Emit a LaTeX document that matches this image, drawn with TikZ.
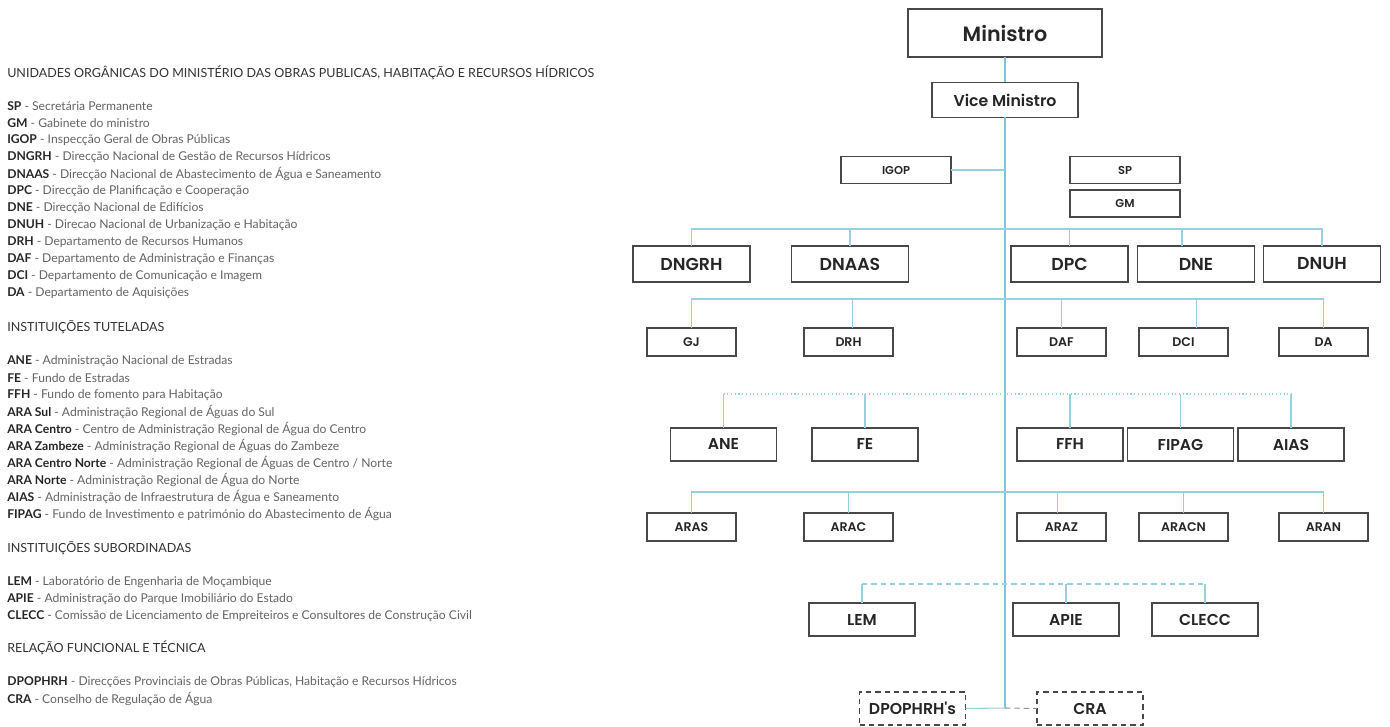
\documentclass[tikz,border=0pt]{standalone}
\usepackage{fontspec}
\setmainfont{Lato}
\newfontfamily\chartfont{Poppins}[BoldFont={* SemiBold}]
\definecolor{linkblue}{RGB}{150,210,222}
\definecolor{spineblue}{RGB}{120,198,214}
\definecolor{boxgray}{RGB}{72,72,72}
\definecolor{descgray}{RGB}{100,100,100}

\begin{document}
\begin{tikzpicture}
  [x=0.75pt,y=-0.75pt,
   box/.style={draw=boxgray,line width=1.1pt,inner sep=0pt,outer sep=0pt,fill=white,text=black!85},
   minister/.style={box,minimum width=145.5pt,minimum height=36pt,font=\chartfont\bfseries\fontsize{15.5}{15.5}\selectfont},
   vice/.style={box,minimum width=109.5pt,minimum height=26.25pt,font=\chartfont\bfseries\fontsize{11.8}{11.8}\selectfont},
   staff/.style={box,minimum width=82.5pt,minimum height=20.25pt,font=\chartfont\bfseries\fontsize{8.6}{8.6}\selectfont},
   direc/.style={box,minimum width=87.75pt,minimum height=27pt,font=\chartfont\bfseries\fontsize{13}{13}\selectfont},
   dept/.style={box,minimum width=66.75pt,minimum height=21pt,font=\chartfont\bfseries\fontsize{9.4}{9.4}\selectfont},
   inst/.style={box,minimum width=79.5pt,minimum height=24.75pt,font=\chartfont\bfseries\fontsize{11.8}{11.8}\selectfont},
   func/.style={inst,dash pattern=on 4pt off 3pt},
   link/.style={draw=linkblue,line width=0.8pt},
   spine/.style={draw=spineblue,line width=1.4pt},
   dotlink/.style={link,dotted},
   dashlink/.style={link,dash pattern=on 4pt off 3pt},
   heading/.style={anchor=west,inner sep=0pt,text=black!80,font=\fontsize{9.4}{11}\selectfont},
   entry/.style={anchor=west,inner sep=0pt,text=descgray,font=\fontsize{9.1}{11}\selectfont}]

  \fill[white] (0,0) rectangle (1390,727);
  \useasboundingbox (0,0) rectangle (1390,727);

  % legend
  \node[heading] (h1) at (7,73) {UNIDADES ORGÂNICAS DO MINISTÉRIO DAS OBRAS PUBLICAS, HABITAÇÃO E RECURSOS HÍDRICOS};
  \foreach \ab/\txt [count=\i] in {SP/Secretária Permanente, GM/Gabinete do ministro,
      IGOP/Inspecção Geral de Obras Públicas, DNGRH/Direcção Nacional de Gestão de Recursos Hídricos,
      DNAAS/Direcção Nacional de Abastecimento de Água e Saneamento, DPC/Direcção de Planificação e Cooperação,
      DNE/Direcção Nacional de Edifícios, DNUH/Direcao Nacional de Urbanização e Habitação,
      DRH/Departamento de Recursos Humanos, DAF/Departamento de Administração e Finanças,
      DCI/Departamento de Comunicação e Imagem, DA/Departamento de Aquisições}
    \node[entry] (u\i) at (7,89+17*\i) {{\color{black!85}\bfseries\ab} - \txt};

  \node[heading] (h2) at (7,327) {INSTITUIÇÕES TUTELADAS};
  \foreach \ab/\txt [count=\i] in {ANE/Administração Nacional de Estradas, FE/Fundo de Estradas,
      FFH/Fundo de fomento para Habitação, ARA Sul/Administração Regional de Águas do Sul,
      ARA Centro/Centro de Administração Regional de Água do Centro,
      ARA Zambeze/Administração Regional de Águas do Zambeze,
      ARA Centro Norte/{Administração Regional de Águas de Centro / Norte},
      ARA Norte/Administração Regional de Água do Norte,
      AIAS/Administração de Infraestrutura de Água e Saneamento,
      FIPAG/Fundo de Investimento e património do Abastecimento de Água}
    \node[entry] (t\i) at (7,344+17*\i) {{\color{black!85}\bfseries\ab} - \txt};

  \node[heading] (h3) at (7,548) {INSTITUIÇÕES SUBORDINADAS};
  \foreach \ab/\txt [count=\i] in {LEM/Laboratório de Engenharia de Moçambique,
      APIE/Administração do Parque Imobiliário do Estado,
      CLECC/Comissão de Licenciamento de Empreiteiros e Consultores de Construção Civil}
    \node[entry] (s\i) at (7,565+17*\i) {{\color{black!85}\bfseries\ab} - \txt};

  \node[heading] (h4) at (7,648) {RELAÇÃO FUNCIONAL E TÉCNICA};
  \foreach \ab/\txt [count=\i] in {DPOPHRH/{Direcções Provinciais de Obras Públicas, Habitação e Recursos Hídricos},
      CRA/Conselho de Regulação de Água}
    \node[entry] (r\i) at (7,665+17*\i) {{\color{black!85}\bfseries\ab} - \txt};

  % chart
  \coordinate (bus1) at (1005,229);
  \coordinate (bus2) at (1005,299);
  \coordinate (bus3) at (1005,394);
  \coordinate (bus4) at (1005,492);
  \coordinate (bus5) at (1005,584);
  \coordinate (foot) at (1005,708);

  \node[minister] (Ministro) at (1005,33) {Ministro};
  \node[vice] (ViceMinistro) at (1005,100) {Vice Ministro};
  \node[staff] (IGOP) at (896,170) {IGOP};
  \node[staff] (SP) at (1125,170) {SP};
  \node[staff] (GM) at (1125,203.5) {GM};

  \draw[spine] (Ministro.south) -- (ViceMinistro.north);
  \draw[spine] (ViceMinistro.south) -- (foot);
  \draw[link] (IGOP.east) -- (IGOP.east -| foot);

  \foreach \n/\x in {DNGRH/691.5,DNAAS/850,DPC/1069.5,DNE/1196,DNUH/1322}
    \node[direc] (\n) at (\x,264) {\n};
  \foreach \n/\dx in {DNGRH/0,DNAAS/0,DPC/0,DNE/-14,DNUH/0}
    \draw[link] ([xshift=\dx*0.75pt]\n.north) |- (bus1);

  \foreach \n/\x in {GJ/691.5,DRH/848.5,DAF/1061.5,DCI/1183.5,DA/1323.5}
    \node[dept] (\n) at (\x,342) {\n};
  \foreach \n/\dx in {GJ/0,DRH/4,DAF/0,DCI/13,DA/0}
    \draw[link] ([xshift=\dx*0.75pt]\n.north) |- (bus2);

  \foreach \n/\x in {ANE/723.5,FE/865,FFH/1070,FIPAG/1180.5,AIAS/1291}
    \node[inst] (\n) at (\x,444.5) {\n};
  \foreach \n in {ANE,FE,FFH,FIPAG,AIAS}
    \draw[link] (\n.north) -- (\n.north |- bus3);
  \draw[dotlink] (ANE.north |- bus3) -- (AIAS.north |- bus3);

  \foreach \n/\x in {ARAS/691.5,ARAC/848.5,ARAZ/1061.5,ARACN/1183.5,ARAN/1323.5}
    \node[dept] (\n) at (\x,527) {\n};
  \foreach \n/\dx in {ARAS/0,ARAC/0,ARAZ/-4,ARACN/0,ARAN/0}
    \draw[link] ([xshift=\dx*0.75pt]\n.north) |- (bus4);

  \foreach \n/\x in {LEM/862,APIE/1066,CLECC/1205}
    \node[inst] (\n) at (\x,619.5) {\n};
  \foreach \n in {LEM,APIE,CLECC}
    \draw[link] (\n.north) -- (\n.north |- bus5);
  \draw[dashlink] (LEM.north |- bus5) -- (CLECC.north |- bus5);

  \node[func] (DPOPHRH) at (912.5,708.5) {DPOPHRH's};
  \node[func] (CRA) at (1090,708.5) {CRA};
  \draw[link] (DPOPHRH.east) -- (foot);
  \draw[dashlink,draw=boxgray!60] (foot) -- (CRA.west);

\end{tikzpicture}
\end{document}
